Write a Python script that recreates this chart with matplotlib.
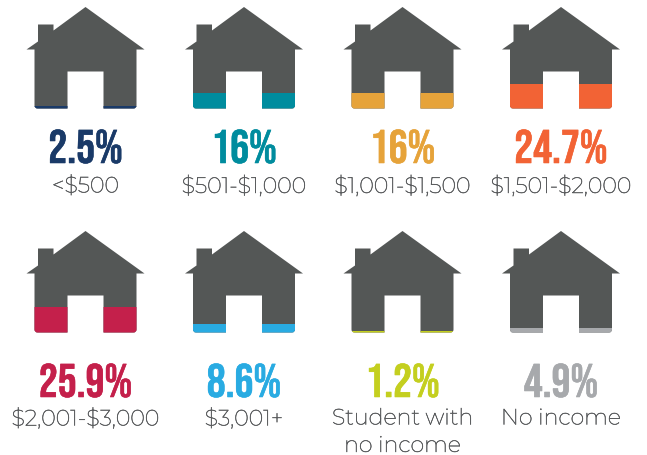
#!/usr/bin/env python3
"""Household income pictogram: each house fills from the bottom to its percent."""
import matplotlib
matplotlib.use('Agg')
import matplotlib.pyplot as plt
import matplotlib.patheffects as pe
from matplotlib import font_manager as fm
from matplotlib.patches import PathPatch
from matplotlib.path import Path

W, H = 647, 456
values = [2.5, 16, 16, 24.7, 25.9, 8.6, 1.2, 4.9]
value_labels = ['2.5%', '16%', '16%', '24.7%', '25.9%', '8.6%', '1.2%', '4.9%']
labels = ['<$500', '$501-$1,000', '$1,001-$1,500', '$1,501-$2,000',
          '$2,001-$3,000', '$3,001+', 'Student with\nno income', 'No income']
colors = ['#1a3a68', '#008c9e', '#e6a33a', '#f26335',
          '#c4204b', '#29abe2', '#c4cf1f', '#a7a9ac']
BODY = '#545756'
GREY_TEXT = '#5a5c5e'
CENTERS = [85.5, 244, 402.5, 561]
TOPS = [8, 232]     # apex y of each row, px from top
HOUSE_H = 101.5

installed = {f.name for f in fm.fontManager.ttflist}


def pick(*names):
    for n in names:
        if n in installed:
            return n
    return 'DejaVu Sans'


NUM_FONT = pick('Bebas Neue', 'League Gothic', 'Oswald', 'Antonio')
LABEL_FONT = pick('Montserrat', 'Open Sans')


def house_path():
    # outline with y = 0 at the ground and the apex at 101.5 (1 unit = 1 px = 1 %)
    r = 3
    verts = [(0, 101.5), (59, 59), (51, 59), (51, r), (51, 0), (51 - r, 0),
             (18, 0), (18, 37), (-18, 37), (-18, 0),
             (-51 + r, 0), (-51, 0), (-51, r), (-51, 59), (-59, 59),
             (-47.5, 67), (-47.5, 84), (-32, 84), (-32, 78), (0, 101.5)]
    codes = [Path.MOVETO, Path.LINETO, Path.LINETO, Path.LINETO, Path.CURVE3, Path.CURVE3,
             Path.LINETO, Path.LINETO, Path.LINETO, Path.LINETO,
             Path.LINETO, Path.CURVE3, Path.CURVE3, Path.LINETO, Path.LINETO,
             Path.LINETO, Path.LINETO, Path.LINETO, Path.LINETO, Path.CLOSEPOLY]
    return Path(verts, codes)


fig = plt.figure(figsize=(W / 100, H / 100), dpi=100, facecolor='white')

for i, (v, vl, lab, c) in enumerate(zip(values, value_labels, labels, colors)):
    row, col = divmod(i, 4)
    cx, top = CENTERS[col], TOPS[row]
    ax = fig.add_axes([(cx - 60) / W, 1 - (top + HOUSE_H) / H, 120 / W, HOUSE_H / H])
    ax.set_xlim(-60, 60)
    ax.set_ylim(0, HOUSE_H)
    ax.axis('off')
    body = PathPatch(house_path(), fc=BODY, ec='none')
    ax.add_patch(body)
    bar = ax.bar(0, v, width=120, color=c, linewidth=0)[0]
    bar.set_clip_path(body)

    base = top + (156 if row == 0 else 166)
    num = fig.text(cx / W, 1 - base / H, vl, ha='center', va='baseline', color=c, fontsize=34,
                   family=NUM_FONT)
    # the reference numerals are a touch heavier than Bebas Neue
    num.set_path_effects([pe.withStroke(linewidth=0.4, foreground=c)])
    lab_y = base + (12 if row == 0 else 10.5)
    lab_txt = fig.text(cx / W, 1 - lab_y / H, lab, ha='center', va='top',
                       color=GREY_TEXT, fontsize=16, linespacing=1.38,
                       family=LABEL_FONT, parse_math=False)
    lab_txt.set_path_effects([pe.withStroke(linewidth=0.35, foreground=GREY_TEXT)])

fig.savefig('out.png', dpi=100, facecolor='white')
